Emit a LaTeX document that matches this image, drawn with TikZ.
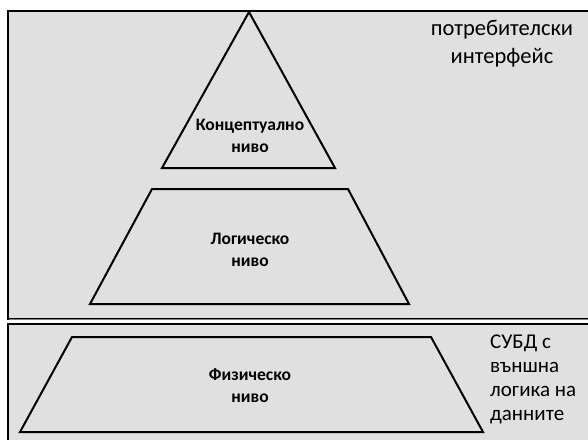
\documentclass[tikz,border=0pt]{standalone}
\usepackage{fontspec}
\setmainfont{Carlito}
\definecolor{bg}{RGB}{224,224,224}
\begin{document}
\begin{tikzpicture}[x=1pt,y=-1pt,
  levelshape/.style={draw=black,line width=2pt,line join=miter},
  panel/.style={draw=black,fill=bg,line width=2pt},
  lvl/.style={font=\bfseries\fontsize{17.5}{22}\selectfont,align=center,inner sep=0pt},
  lbl/.style={font=\fontsize{22.5}{28}\selectfont,inner sep=0pt}]
\clip (0,0) rectangle (588,439);
\fill[white] (0,0) rectangle (588,439);
% panels
\draw[panel] (8,11) rectangle (600,319);
\draw[panel] (8,323.5) rectangle (600,460);
\draw[gray,line width=1.5pt] (9,319.5) -- (600,319.5);
% shapes
\draw[levelshape] (249,12) -- (335,168) -- (162,168) -- cycle;
\draw[levelshape] (152,189) -- (348,189) -- (409,304) -- (90,304) -- cycle;
\draw[levelshape] (72,337) -- (431,337) -- (483,432) -- (20,432) -- cycle;
% labels
\node[lvl] (c) at (250,136) {Концептуално\\ниво};
\node[lvl] (l) at (250,250) {Логическо\\ниво};
\node[lvl] (f) at (250,386) {Физическо\\ниво};
\node[lbl,align=center] (ui) at (502,44) {потребителски\\интерфейс};
\node[lbl,align=left,anchor=west,font=\fontsize{21}{24}\selectfont] (db) at (490,379) {СУБД с\\външна\\логика на\\данните};
\end{tikzpicture}
\end{document}
